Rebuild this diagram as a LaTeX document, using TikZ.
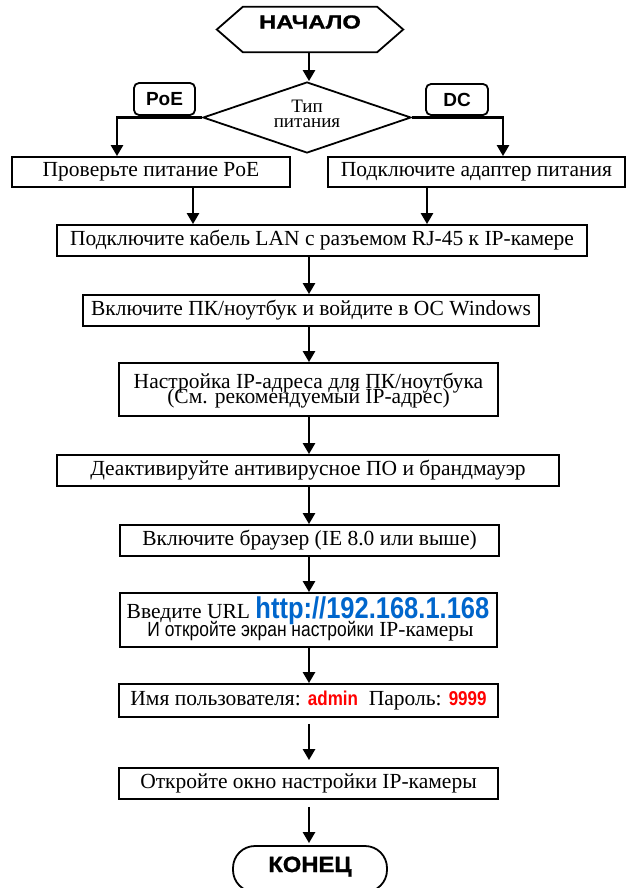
\documentclass[tikz,border=0pt]{standalone}
\usepackage{fontspec}
\setmainfont{Liberation Serif}
\newfontfamily\headfont{Liberation Sans}[FakeStretch=1.25, BoldFeatures={FakeBold=1.3}]
\newfontfamily\endfont{Liberation Sans}[FakeStretch=1.08, BoldFeatures={FakeBold=1.3}]
\newfontfamily\tagfont{Liberation Sans}
\newfontfamily\narrowfont{Liberation Sans}[FakeStretch=0.85]
\usetikzlibrary{arrows.meta,shapes.geometric}
\definecolor{urlblue}{RGB}{0,102,204}
\definecolor{redtxt}{RGB}{255,0,0}
\newcommand\mainsz{\fontsize{21.5}{22}\selectfont}
\begin{document}
\begin{tikzpicture}[x=1pt,y=-1pt,
  box/.style={draw, line width=1.8pt, inner sep=0pt, font=\mainsz},
  txt/.style={inner sep=0pt, anchor=base, font=\mainsz},
  arr/.style={line width=2.5pt, -{Triangle[width=12pt,length=11pt]}},
  tagbox/.style={draw, line width=1.8pt, rounded corners=5pt, inner sep=0pt, font=\tagfont\bfseries\fontsize{19}{19}\selectfont},
  outline/.style={line width=1.8pt}]
\useasboundingbox (0,0) rectangle (627,888);
\coordinate (col) at (309,0);
\coordinate (lcol) at (117,0);
\coordinate (rcol) at (503,0);
\coordinate (acol) at (193,0);
\coordinate (bcol) at (427,0);

% start hexagon
\node (start) [minimum width=186pt, minimum height=45pt, inner sep=0pt] at (310,29.5) {};
\draw[outline] (start.west) -- ([xshift=26pt]start.north west) -- ([xshift=-26pt]start.north east)
  -- (start.east) -- ([xshift=-26pt]start.south east) -- ([xshift=26pt]start.south west) -- cycle;
\node (starttxt) [inner sep=0pt, font=\headfont\bfseries\fontsize{19}{19}\selectfont] at (310,22) {НАЧАЛО};

% decision
\node (dia) [draw, outline, shape=diamond, minimum width=208pt, minimum height=71pt, inner sep=0pt] at (307,117.5) {};
\node (diat1) [txt, font=\fontsize{19}{19}\selectfont] at (307,113) {Тип};
\node (diat2) [txt, font=\fontsize{19}{19}\selectfont] at (307,128) {питания};

\node (poe) [tagbox, minimum width=61pt, minimum height=32pt] at (164.5,99) {PoE};
\node (dc) [tagbox, minimum width=62pt, minimum height=31pt] at (457,99.5) {DC};

\node (ba) [box, minimum width=278pt, minimum height=30pt] at (151,172) {Проверьте питание PoE};
\node (bb) [box, minimum width=297pt, minimum height=30pt] at (476.5,172) {Подключите адаптер питания};
\node (lan) [box, minimum width=530pt, minimum height=31pt] at (322,240.5) {Подключите кабель LAN с разъемом RJ-45 к IP-камере};
\node (b2) [box, minimum width=456pt, minimum height=31pt] at (311,310.5) {Включите ПК/ноутбук и войдите в ОС Windows};
\node (b3) [box, minimum width=379pt, minimum height=53pt] at (308.5,389.5) {};
\node (b3a) [txt] at (308.5,388) {Настройка IP-адреса для ПК/ноутбука};
\node (b3b) [txt] at (308.5,403) {(См. рекомендуемый IP-адрес)};
\node (b4) [box, minimum width=502pt, minimum height=31pt] at (308,470.5) {Деактивируйте антивирусное ПО и брандмауэр};
\node (b5) [box, minimum width=379pt, minimum height=31pt] at (309.5,540.5) {Включите браузер (IE 8.0 или выше)};
\node (b6) [box, minimum width=377pt, minimum height=54pt] at (308.5,620) {};
\node (b6a) [txt] at (308,618) {Введите URL {\narrowfont\bfseries\fontsize{30}{30}\selectfont\color{urlblue}http://192.168.1.168}};
\node (b6b) [txt] at (310.5,636) {{\narrowfont\fontsize{20.5}{20}\selectfont И откройте экран настройки} IP-камеры};
\node (b7) [box, minimum width=379pt, minimum height=33pt] at (308.5,700.5) {Имя пользователя: {\narrowfont\bfseries\fontsize{20}{20}\selectfont\color{redtxt}admin}\ \ Пароль: {\narrowfont\bfseries\fontsize{20}{20}\selectfont\color{redtxt}9999}};
\node (b8) [box, minimum width=379pt, minimum height=31pt] at (308.5,783.5) {Откройте окно настройки IP-камеры};
\node (end) [draw, outline, rounded corners=22pt, minimum width=154pt, minimum height=46pt, inner sep=0pt] at (310,869) {};
\node (endtxt) [inner sep=0pt, font=\endfont\bfseries\fontsize{22}{22}\selectfont] at (310,866.5) {КОНЕЦ};

% connectors
\draw[arr] (start.south -| col) -- (dia.north -| col);
\draw[arr] (dia.west) -| (lcol |- ba.north);
\draw[arr] (dia.east) -| (rcol |- bb.north);
\draw[arr] (acol |- ba.south) -- (acol |- lan.north);
\draw[arr] (bcol |- bb.south) -- (bcol |- lan.north);
\draw[arr] (lan.south -| col) -- (b2.north -| col);
\draw[arr] (b2.south -| col) -- (b3.north -| col);
\draw[arr] (b3.south -| col) -- (b4.north -| col);
\draw[arr] (b4.south -| col) -- (b5.north -| col);
\draw[arr] (b5.south -| col) -- (b6.north -| col);
\draw[arr] (b6.south -| col) -- (b7.north -| col);
\draw[arr, shorten <=6pt, shorten >=7pt] (b7.south -| col) -- (b8.north -| col);
\draw[arr, shorten <=7pt, shorten >=2pt] (b8.south -| col) -- (end.north -| col);
\end{tikzpicture}
\end{document}
